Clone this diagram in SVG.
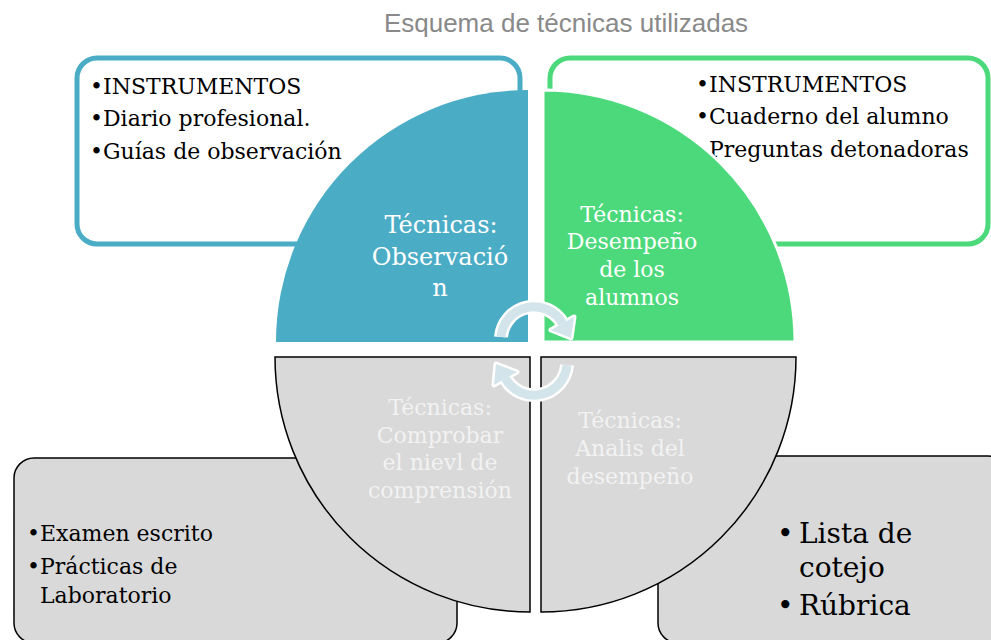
<svg xmlns="http://www.w3.org/2000/svg" width="991" height="640" viewBox="0 0 991 640">
<style>
.title{font-family:"Liberation Sans",Arial,sans-serif;font-size:26px;fill:#898989;text-anchor:middle}
.bx{font-family:"DejaVu Serif","Liberation Serif",serif;font-size:22px;fill:#000}
.big{font-family:"DejaVu Serif","Liberation Serif",serif;font-size:28px;fill:#000}
.qt{font-family:"DejaVu Serif","Liberation Serif",serif;fill:#fff;text-anchor:middle}
.qg{font-family:"DejaVu Serif","Liberation Serif",serif;fill:#f2f2f2;text-anchor:middle;font-size:22px}
.gbox{fill:#d9d9d9;stroke:#000;stroke-width:1.5}
.arcw{fill:none;stroke:#fff;stroke-width:14}
.arcb{fill:none;stroke:#d3e4eb;stroke-width:9}
.headw{fill:#fff;stroke:#fff;stroke-width:5;stroke-linejoin:round}
.headb{fill:#d3e4eb}
</style>
<rect width="991" height="640" fill="#fff"/>
<text class="title" x="566" y="32">Esquema de técnicas utilizadas</text>

<g id="box-observacion">
<rect x="77" y="58" width="443" height="186" rx="20" fill="#fff" stroke="#4bacc6" stroke-width="5"/>
<text class="bx" x="90" y="94">•INSTRUMENTOS</text>
<text class="bx" x="90" y="126">•Diario profesional.</text>
<text class="bx" x="90" y="159">•Guías de observación</text>
</g>
<g id="box-desempeno">
<rect x="550" y="58" width="438" height="186" rx="20" fill="#fff" stroke="#4cd97b" stroke-width="5"/>
<text class="bx" x="696" y="92">•INSTRUMENTOS</text>
<text class="bx" x="696" y="124">•Cuaderno del alumno</text>
<text class="bx" x="709" y="157">Preguntas detonadoras</text>
</g>
<g id="box-comprension">
<rect class="gbox" x="14" y="458" width="443" height="185" rx="20"/>
<text class="bx" x="27" y="541">•Examen escrito</text>
<text class="bx" x="27" y="574">•Prácticas de</text>
<text class="bx" x="40" y="603">Laboratorio</text>
</g>
<g id="box-analisis">
<rect class="gbox" x="658" y="456" width="350" height="187" rx="20"/>
<text class="big" x="777" y="543">•</text>
<text class="big" x="799" y="543">Lista de</text>
<text class="big" x="799" y="577">cotejo</text>
<text class="big" x="777" y="615">•</text>
<text class="big" x="799" y="615">Rúbrica</text>
</g>

<g id="tecnica-observacion">
<path d="M528 342 L276 342 A252 252 0 0 1 528 90 Z" fill="#4bacc6"/>
<text class="qt" font-size="24" x="441" y="233">Técnicas:</text>
<text class="qt" font-size="24" x="440" y="265">Observació</text>
<text class="qt" font-size="24" x="440" y="296">n</text>
</g>
<g id="tecnica-desempeno">
<path d="M543 342 L543 90 A252 252 0 0 1 795 342 Z" fill="#4cd97b" stroke="#fff" stroke-width="3"/>
<text class="qt" font-size="22" x="632" y="222">Técnicas:</text>
<text class="qt" font-size="22" x="632" y="249">Desempeño</text>
<text class="qt" font-size="22" x="632" y="277">de los</text>
<text class="qt" font-size="22" x="632" y="305">alumnos</text>
</g>
<g id="tecnica-comprension">
<path class="gbox" d="M530 357 L530 612 A255 255 0 0 1 275 357 Z"/>
<text class="qg" x="440" y="415">Técnicas:</text>
<text class="qg" x="440" y="443">Comprobar</text>
<text class="qg" x="440" y="470">el nievl de</text>
<text class="qg" x="440" y="498">comprensión</text>
</g>
<g id="tecnica-analisis">
<path class="gbox" d="M541 357 L796 357 A255 255 0 0 1 541 612 Z"/>
<text class="qg" x="630" y="428">Técnicas:</text>
<text class="qg" x="630" y="456">Analis del</text>
<text class="qg" x="630" y="484">desempeño</text>
</g>

<g id="connectors">
<path class="arcw" d="M501 337 A33 33 0 0 1 562.6 323.5"/>
<polygon class="headw" points="551,330 574,317 571,338"/>
<path class="arcw" d="M567 365 A33 33 0 0 1 505.4 378.5"/>
<polygon class="headw" points="517,372 494,385 496,364"/>
<path class="arcb" d="M501 337 A33 33 0 0 1 562.6 323.5"/>
<polygon class="headb" points="551,330 574,317 571,338"/>
<path class="arcb" d="M567 365 A33 33 0 0 1 505.4 378.5"/>
<polygon class="headb" points="517,372 494,385 496,364"/>
</g>
</svg>
